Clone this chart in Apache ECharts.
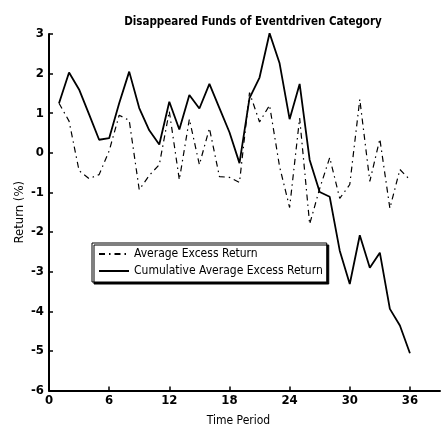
<!DOCTYPE html>
<html>
<head>
<meta charset="utf-8">
<script src="https://cdn.jsdelivr.net/npm/echarts@6/dist/echarts.min.js"></script>
<style>
html,body{margin:0;padding:0;background:#fff;}
#c{width:443px;height:428px;}
</style>
</head>
<body>
<div id="c"></div>
<script>
var periods = [1,2,3,4,5,6,7,8,9,10,11,12,13,14,15,16,17,18,19,20,21,22,23,24,25,26,27,28,29,30,31,32,33,34,35,36];
var averageExcess = [1.25,0.8,-0.45,-0.65,-0.55,0.05,0.95,0.82,-0.93,-0.57,-0.3,1.05,-0.68,0.85,-0.3,0.62,-0.6,-0.62,-0.75,1.52,0.78,1.2,-0.35,-1.38,0.88,-1.8,-0.9,-0.12,-1.15,-0.8,1.35,-0.72,0.35,-1.4,-0.42,-0.68];
var cumulativeExcess = [1.25,2.03,1.6,0.97,0.33,0.37,1.25,2.05,1.13,0.57,0.21,1.29,0.59,1.46,1.12,1.74,1.13,0.52,-0.26,1.38,1.9,3.02,2.26,0.85,1.74,-0.18,-0.99,-1.11,-2.47,-3.31,-2.08,-2.9,-2.52,-3.94,-4.36,-5.06];
var xTicks = [0,6,12,18,24,30,36];
var yTicks = [-6,-5,-4,-3,-2,-1,0,1,2,3];

var FONT = '"DejaVu Sans Condensed","Liberation Sans Narrow","Liberation Sans",sans-serif';

function pairs(xs, ys){ return xs.map(function(x,i){ return [x, ys[i]]; }); }

var chart = echarts.init(document.getElementById('c'), null, {renderer:'canvas'});
chart.setOption({
  animation:false,
  backgroundColor:'#fff',
  title:{
    text:'Disappeared Funds of Eventdriven Category',
    left:248, top:11, textAlign:'center',
    textStyle:{fontFamily:FONT, fontSize:11.5, fontWeight:'bold', color:'#000'}
  },
  grid:{left:49, right:3, top:34, bottom:37.5, containLabel:false, outerBoundsMode:'none'},
  legend:{
    orient:'vertical',
    left:92, top:243,
    padding:[5,4,5,6],
    itemGap:5,
    itemWidth:30, itemHeight:10,
    backgroundColor:'#fff',
    borderColor:'#000', borderWidth:1,
    shadowColor:'#000', shadowBlur:0, shadowOffsetX:2, shadowOffsetY:2,
    textStyle:{fontFamily:FONT, fontSize:12, color:'#000'},
    itemStyle:{opacity:0},
    data:['Average Excess Return','Cumulative Average Excess Return']
  },
  xAxis:{
    type:'value', min:0, max:39, interval:6,
    name:'Time Period', nameLocation:'middle', nameGap:24,
    nameTextStyle:{fontFamily:FONT, fontSize:12, color:'#000', padding:[0,0,0,-12]},
    axisLine:{show:true, onZero:false, lineStyle:{color:'#000', width:2}},
    axisTick:{show:true, inside:true, length:4, lineStyle:{color:'#000', width:1.5}, customValues:xTicks},
    axisLabel:{color:'#000', fontFamily:FONT, fontSize:13, fontWeight:'bold', margin:4, customValues:xTicks},
    splitLine:{show:false}
  },
  yAxis:{
    type:'value', min:-6, max:3, interval:1,
    name:'Return (%)', nameLocation:'middle', nameGap:23, nameRotate:90, nameMoveOverlap:false,
    nameTextStyle:{fontFamily:FONT, fontSize:13, color:'#000'},
    axisLine:{show:true, onZero:false, lineStyle:{color:'#000', width:2}},
    axisTick:{show:true, inside:true, length:4, lineStyle:{color:'#000', width:1.5}, customValues:yTicks},
    axisLabel:{color:'#000', fontFamily:FONT, fontSize:13, fontWeight:'bold', margin:5, customValues:yTicks},
    splitLine:{show:false}
  },
  series:[
    {
      name:'Average Excess Return', type:'line', symbol:'none',
      data:pairs(periods, averageExcess),
      lineStyle:{color:'#000', width:1.2, type:[6,4,1.5,4]},
      itemStyle:{color:'#000'},
      z:2
    },
    {
      name:'Cumulative Average Excess Return', type:'line', symbol:'none',
      data:pairs(periods, cumulativeExcess),
      lineStyle:{color:'#000', width:1.8, type:'solid'},
      itemStyle:{color:'#000'},
      z:3
    }
  ]
});
</script>
</body>
</html>
